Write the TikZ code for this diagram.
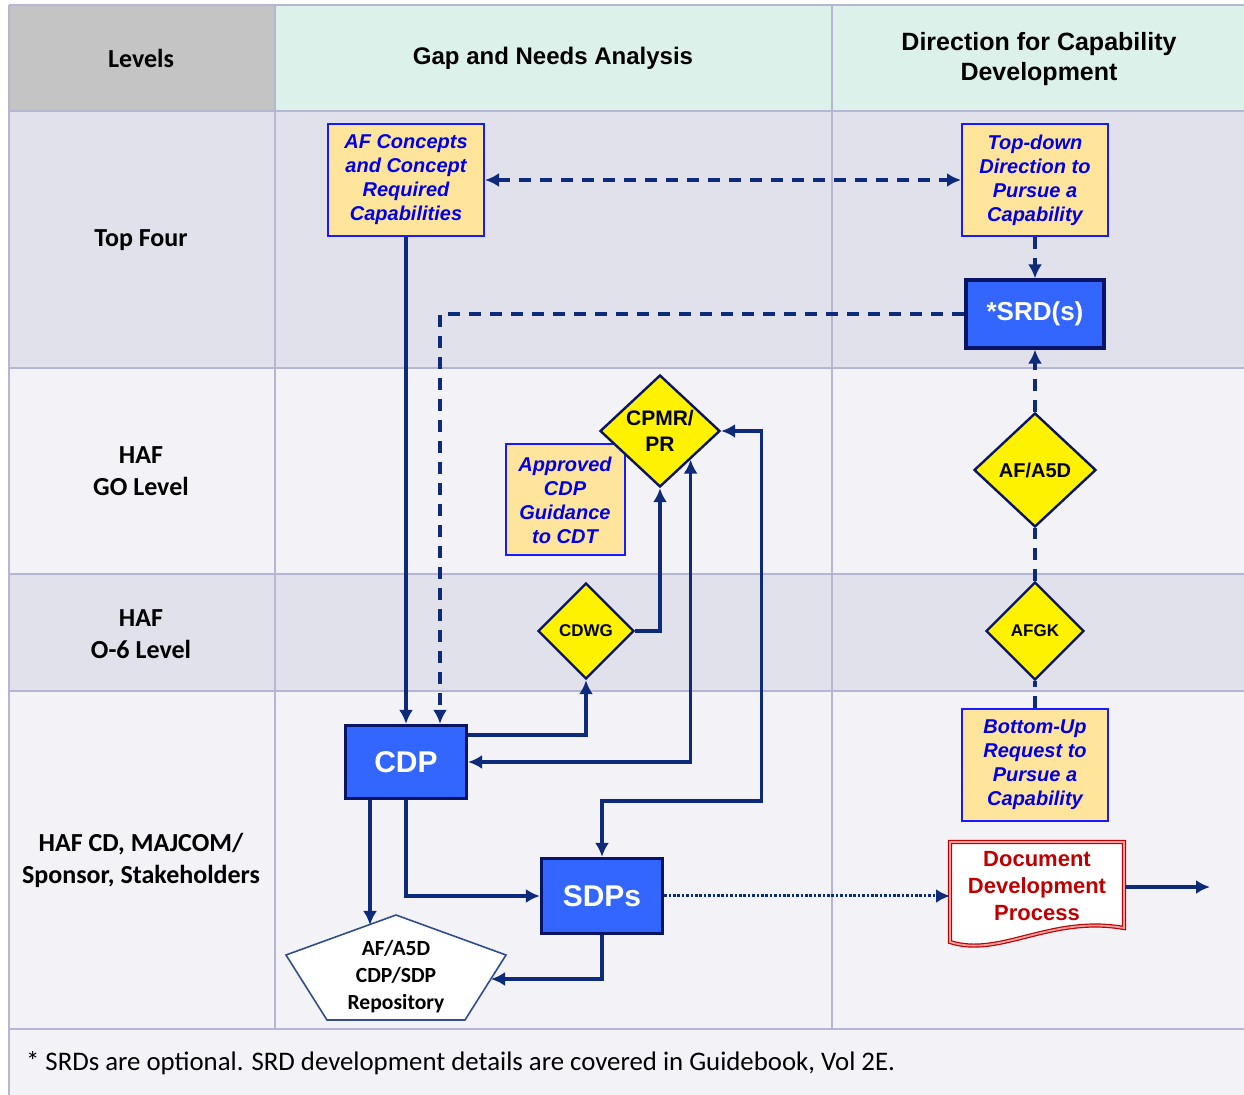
\documentclass[tikz,border=0pt]{standalone}
\usepackage{fontspec}
\setmainfont{Liberation Sans}
\newfontfamily\calibri{Carlito}
\usetikzlibrary{shapes.geometric,arrows.meta}
\definecolor{navy}{HTML}{0E2A7B}
\definecolor{darknavy}{HTML}{0A1464}
\definecolor{gridline}{HTML}{B6B6D4}
\definecolor{headgray}{HTML}{C4C4C4}
\definecolor{headgreen}{HTML}{DCF1E9}
\definecolor{rowdark}{HTML}{E1E1EC}
\definecolor{rowlight}{HTML}{F2F2F7}
\definecolor{boxfill}{HTML}{FFE49C}
\definecolor{boxblue}{HTML}{1A1AFF}
\definecolor{txtblue}{HTML}{0000E6}
\definecolor{srdblue}{HTML}{3366FF}
\definecolor{docred}{HTML}{C00000}
\definecolor{docpink}{HTML}{F2A0A0}
\definecolor{repoline}{HTML}{2F4F8F}
\tikzset{
  levelstyle/.style={font=\calibri\bfseries\fontsize{13}{16}\selectfont, align=center},
  headstyle/.style={font=\bfseries\fontsize{12}{15}\selectfont, align=center},
  ylwbox/.style={draw=boxblue, fill=boxfill, line width=1pt, text=txtblue, inner sep=0pt,
    font=\bfseries\itshape\fontsize{10}{12}\selectfont, align=center},
  bluebox/.style={draw=darknavy, fill=srdblue, line width=1.6pt, text=white, inner sep=0pt,
    font=\bfseries\fontsize{15}{18}\selectfont},
  decide/.style={diamond, draw=darknavy, fill=yellow, line width=1.2pt, inner sep=0pt,
    text=black!80!darknavy, align=center},
  flow/.style={draw=navy, line width=1.7pt},
  dflow/.style={flow, dash pattern=on 6pt off 4.5pt},
  dotflow/.style={flow, line width=1.5pt, dash pattern=on 1.3pt off 0.9pt}
}
\begin{document}
\begin{tikzpicture}[x=0.5pt, y=-0.5pt, >={Latex[length=7pt,width=7pt]}]
    \useasboundingbox (0,0) rectangle (1244,1095);
    % table background
    \fill[headgray] (9,5) rectangle (275,111);
    \fill[headgreen] (275,5) rectangle (1244,111);
    \fill[rowdark] (9,111) rectangle (1244,368);
    \fill[rowlight] (9,368) rectangle (1244,574);
    \fill[rowdark] (9,574) rectangle (1244,691);
    \fill[rowlight] (9,691) rectangle (1244,1095);
    \foreach \y in {5,111,368,574,691,1029}
        \draw[gridline, line width=1pt] (9,\y) -- (1244,\y);
    \foreach \x in {275,832}
        \draw[gridline, line width=1pt] (\x,5) -- (\x,1029);
    \draw[gridline, line width=1pt] (9,5) -- (9,1095);

    % headers and levels
    \node[levelstyle] (hlev) at (141,58) {Levels};
    \node[headstyle] (hgap) at (553,58) {Gap and Needs Analysis};
    \node[headstyle, font=\bfseries\fontsize{12.5}{15}\selectfont] (hdir) at (1039,59) {Direction for Capability\\Development};
    \node[levelstyle] (ltop) at (141,240) {Top Four};
    \node[levelstyle] (lgo) at (141,471) {HAF\\GO Level};
    \node[levelstyle] (lo6) at (141,634) {HAF\\O-6 Level};
    \node[levelstyle] (lcd) at (141,860) {HAF CD, MAJCOM/\\Sponsor, Stakeholders};

    % boxes
    \node[ylwbox, minimum width=78pt, minimum height=56pt] (afc) at (406,180) {AF Concepts\\and Concept\\Required\\Capabilities};
    \node[ylwbox, minimum width=73pt, minimum height=56pt] (tdd) at (1035,180) {Top-down\\Direction to\\Pursue a\\Capability};
    \node[ylwbox, minimum width=59.5pt, minimum height=55.5pt] (acg) at (565,500) {Approved\\CDP\\Guidance\\to CDT};
    \node[ylwbox, minimum width=73pt, minimum height=56pt] (bup) at (1035,765) {Bottom-Up\\Request to\\Pursue a\\Capability};
    \node[bluebox, minimum width=69pt, minimum height=34pt, font=\bfseries\fontsize{13}{16}\selectfont] (srd) at (1035,314) {*SRD(s)};
    \node[bluebox, minimum width=60.5pt, minimum height=36.5pt] (cdp) at (406,762) {CDP};
    \node[bluebox, minimum width=60.5pt, minimum height=37.5pt] (sdp) at (602,896) {SDPs};

    % decision points
    \node[decide, minimum width=60pt, minimum height=56pt, font=\bfseries\fontsize{10.5}{13}\selectfont] (cpmr) at (660,431) {CPMR/\\PR};
    \node[decide, minimum width=48pt, minimum height=48pt, font=\bfseries\fontsize{8.5}{10}\selectfont] (cdwg) at (586,631) {CDWG};
    \node[decide, minimum width=61pt, minimum height=57pt, font=\bfseries\fontsize{10}{12}\selectfont] (afa5d) at (1035,470) {AF/A5D};
    \node[decide, minimum width=49pt, minimum height=49pt, font=\bfseries\fontsize{8.5}{10}\selectfont] (afgk) at (1035,631) {AFGK};

    % repository
    \draw[repoline, line width=0.8pt, fill=white] (396,915) -- (506,955) -- (465,1020) -- (327,1020) -- (286,955) -- cycle;
    \node[font=\calibri\bfseries\fontsize{10.8}{13.5}\selectfont, align=center] (repo) at (396,977) {AF/A5D\\CDP/SDP\\Repository};
    \coordinate (repoA) at (370,925);
    \coordinate (repoB) at (491,979);

    % document
    \draw[docred, line width=0.6pt, double=docpink, double distance=0.9pt, fill=white]
        (950,842) -- (1124,842) -- (1124,928) .. controls (1050,915) and (1000,958) .. (950,942) -- cycle;
    \node[text=docred, font=\bfseries\fontsize{11}{13.5}\selectfont, align=center] (ddp) at (1037,886) {Document\\Development\\Process};
    \coordinate (ddpin) at (950,896);
    \coordinate (ddpout) at (1125,887);
    \coordinate (ddpend) at (1210,887);

    % connectors
    \draw[flow, ->] (afc.south) -- (cdp.north);
    \draw[dflow, <->] (afc.east) -- (tdd.west);
    \draw[dflow, ->] (tdd.south) -- (srd.north);
    \draw[dflow, ->] (srd.west) -| ([xshift=17pt]cdp.north);
    \draw[dflow, ->] (afa5d.north) -- (srd.south);
    \draw[dflow] (afgk.north) -- (afa5d.south);
    \draw[dflow] (bup.north) -- (afgk.south);
    \draw[flow, ->] ([yshift=13.5pt]cdp.east) -| (cdwg.south);
    \draw[flow, ->] (cdwg.east) -| (cpmr.south);
    \draw[flow, <->] (cdp.east) -| (cpmr.south east);
    \draw[flow, <->] (cpmr.east) -- ++(40,0) |- ([yshift=28pt]sdp.north) -- (sdp.north);
    \draw[flow, ->] (cdp.south) |- (sdp.west);
    \draw[flow, ->] ([xshift=-18pt]cdp.south) -- (repoA);
    \draw[flow, ->] (sdp.south) |- (repoB);
    \draw[dotflow, ->] (sdp.east) -- (ddpin);
    \draw[flow, ->] (ddpout) -- (ddpend);

    % note
    \node[anchor=west, font=\calibri\fontsize{13.4}{16}\selectfont] (note) at (19,1063) {* SRDs are optional. SRD development details are covered in Guidebook, Vol 2E.};
\end{tikzpicture}
\end{document}
